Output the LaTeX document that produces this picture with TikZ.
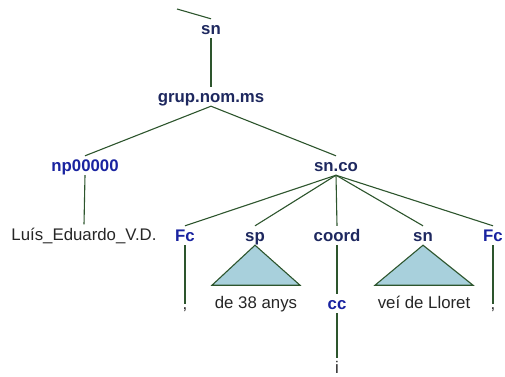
\documentclass[tikz,border=0pt]{standalone}
\usepackage{fontspec}
\setmainfont{Liberation Sans}
\usetikzlibrary{calc}
\definecolor{navy}{RGB}{30,40,95}
\definecolor{tagblue}{RGB}{25,35,160}
\definecolor{lineg}{RGB}{45,85,45}
\definecolor{trifill}{RGB}{168,208,220}
\tikzset{cat/.style={font=\fontsize{16.8}{20}\selectfont\bfseries,text=navy,text height=11pt,text depth=0pt,inner ysep=4pt,inner xsep=1pt,anchor=base},
tag/.style={cat,text=tagblue},
word/.style={font=\fontsize{16.8}{20}\selectfont,text=black!85,inner ysep=3pt,inner xsep=1pt,anchor=base},
edge/.style={line width=1.1pt,draw=lineg},
tri/.style={edge,fill=trifill,line join=miter}}

\begin{document}
\begin{tikzpicture}[x=1pt,y=-1pt]
\useasboundingbox (0,0) rectangle (505,376);
% upper part of the tree
\coordinate (up) at (177,9);
\node[cat] (sn1) at (211,34){sn};
\node[cat] (grup) at (211,102){grup.nom.ms};
\node[tag] (np) at (85,171){np00000};\node[cat] (snco) at (336,171){sn.co};
\node[word] (luis) at (84,240){Luís\_Eduardo\_V.D.};
\draw[edge] (up)--(sn1.north);\draw[edge] (sn1.south)--(grup.north);
\draw[edge] (grup.south)--(np.north);\draw[edge] (grup.south)--(snco.north);
\draw[edge] (np.south)--(luis.north);
% daughters of sn.co
\node[tag] (fc1) at (185,241){Fc};\node[cat] (sp) at (255,241){sp};\node[cat] (coord) at (337,241){coord};
\node[cat] (sn2) at (423,241){sn};\node[tag] (fc2) at (493,241){Fc};
\foreach \d in {fc1,sp,coord,sn2,fc2}{\draw[edge] (snco.south)--(\d.north);}
% leaves
\node[word] (com1) at (185,309){,};\node[word] (de) at (256,308){de 38 anys};
\node[tag] (cc) at (337,309){cc};\node[word] (vei) at (424,308){veí de Lloret};
\node[word] (com2) at (493,309){,};\node[word] (conj) at (337,373){i};
\draw[edge] (fc1.south)--(com1.north);\draw[edge] (fc2.south)--(com2.north);
\draw[edge] (coord.south)--(cc.north);\draw[edge] (cc.south)--(conj.north);
\draw[tri] (sp.south)--++(-43,40)--++(88,0)--cycle;
\draw[tri] (sn2.south)--++(-48,40)--++(98,0)--cycle;
\end{tikzpicture}
\end{document}
